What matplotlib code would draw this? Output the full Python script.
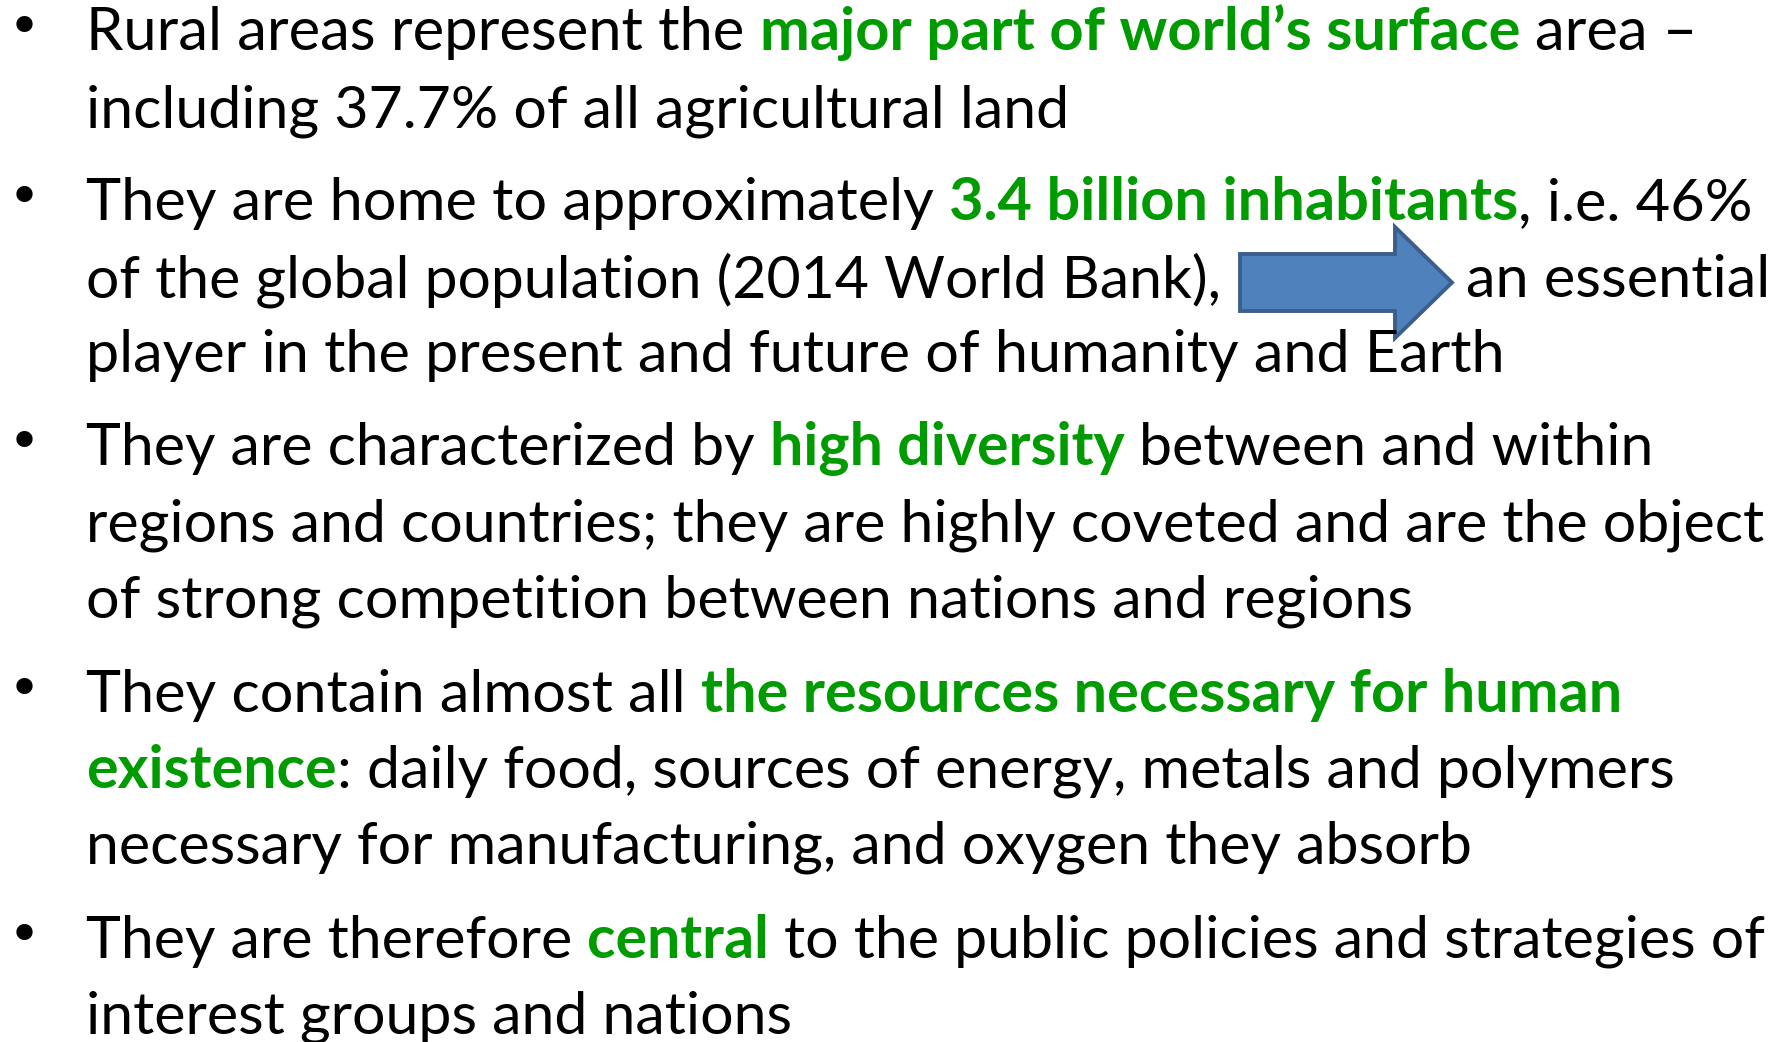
import matplotlib
matplotlib.use('Agg')
import matplotlib.pyplot as plt
from matplotlib.patches import FancyArrow
import numpy as np

W, H = 1789, 1042
FONT = 'Lato'
GREEN = '#009B00'
BLACK = '#000000'

# ---- text content (segments: text, highlighted) ----
b1_l1 = [("Rural areas represent the ", False), ("major part of world’s surface", True), (" area –", False)]
b1_l2 = [("including 37.7% of all agricultural land", False)]
b2_l1 = [("They are home to approximately ", False), ("3.4 billion inhabitants", True), (", i.e. 46%", False)]
b2_l2a = [("of the global population (2014 World Bank),", False)]
b2_l2b = [("an essential", False)]
b2_l3 = [("player in the present and future of humanity and Earth", False)]
b3_l1 = [("They are characterized by ", False), ("high diversity", True), (" between and within", False)]
b3_l2 = [("regions and countries; they are highly coveted and are the object", False)]
b3_l3 = [("of strong competition between nations and regions", False)]
b4_l1 = [("They contain almost all ", False), ("the resources necessary for human", True)]
b4_l2 = [("existence", True), (": daily food, sources of energy, metals and polymers", False)]
b4_l3 = [("necessary for manufacturing, and oxygen they absorb", False)]
b5_l1 = [("They are therefore ", False), ("central", True), (" to the public policies and strategies of", False)]
b5_l2 = [("interest groups and nations", False)]

# layout: (baseline y, start x, target right x, bullet?, segments)
layout = [
    (50, 86, 1697, True, b1_l1),
    (127, 86, 1069, False, b1_l2),
    (220, 86, 1751, True, b2_l1),
    (297, 86, 1221, False, b2_l2a),
    (297, 1466, 1770, False, b2_l2b),
    (372, 86, 1503, False, b2_l3),
    (465, 86, 1651, True, b3_l1),
    (542, 86, 1767, False, b3_l2),
    (617, 86, 1412, False, b3_l3),
    (712, 86, 1620, True, b4_l1),
    (788, 86, 1674, False, b4_l2),
    (863, 86, 1472, False, b4_l3),
    (958, 86, 1763, True, b5_l1),
    (1033, 86, 792, False, b5_l2),
]

fig = plt.figure(figsize=(W / 100, H / 100), dpi=100)
ax = fig.add_axes([0, 0, 1, 1])
ax.set_xlim(0, W)
ax.set_ylim(H, 0)
ax.axis('off')
fig.patch.set_facecolor('white')
renderer = fig.canvas.get_renderer()


def twidth(s, fs, bold):
    if not s.strip():
        return 0.0
    t = ax.text(0, 0, s, fontsize=fs, family=FONT, fontweight='bold' if bold else 'normal')
    w = t.get_window_extent(renderer).width
    t.remove()
    return w


def space_w(fs, bold):
    return twidth("a a", fs, bold) - twidth("aa", fs, bold)


def seg_layout(segs, fs):
    xs = []
    x = 0.0
    for s, b in segs:
        lead = len(s) - len(s.lstrip(' '))
        trail = len(s) - len(s.rstrip(' '))
        sw = space_w(fs, b)
        x += lead * sw
        xs.append(x)
        x += twidth(s.strip(' '), fs, b) + trail * sw
    return xs, x


BASE = 40.0
ratios = []
for y, x0, xr, bul, segs in layout:
    _, w = seg_layout(segs, BASE)
    ratios.append((xr - x0) / w)
med = float(np.median(ratios))

for (y, x0, xr, bul, segs), r in zip(layout, ratios):
    rr = min(max(r, med * 0.97), med * 1.03)
    fs = BASE * rr
    xs, _ = seg_layout(segs, fs)
    for (s, b), dx in zip(segs, xs):
        ax.text(x0 + dx, y, s.strip(' '), fontsize=fs, family=FONT,
                fontweight='bold' if b else 'normal',
                color=GREEN if b else BLACK, ha='left', va='baseline')
    if bul:
        ax.text(24, y - 20, '•', fontsize=BASE * med * 0.95, family='DejaVu Sans',
                ha='center', va='center', color=BLACK)

# arrow between "(2014 World Bank)," and "an essential"
arrow = FancyArrow(1240, 282.5, 212, 0, width=57, head_width=111, head_length=57,
                   length_includes_head=True, facecolor='#4F81BD', edgecolor='#3B5E8C',
                   linewidth=2.8, joinstyle='miter')
ax.add_patch(arrow)

fig.savefig('out.png', dpi=100, facecolor='white')
